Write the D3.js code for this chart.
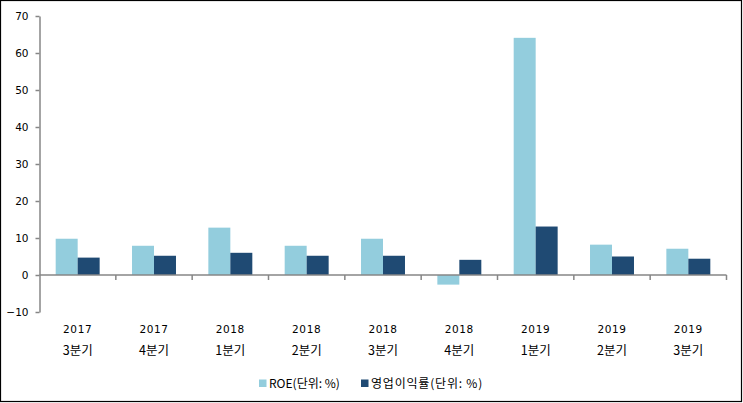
<!DOCTYPE html>
<html><head><meta charset="utf-8">
<script src="https://cdn.jsdelivr.net/npm/d3@7"></script>
<style>body{margin:0;background:#fff}svg{display:block}</style>
</head><body>
<script>
const years = ["2017","2017","2018","2018","2018","2018","2019","2019","2019"];
const quarters = ["3분기","4분기","1분기","2분기","3분기","4분기","1분기","2분기","3분기"];
const roe = [9.8, 7.9, 12.8, 7.9, 9.8, -2.6, 64.1, 8.2, 7.1];
const opMargin = [4.7, 5.2, 6.0, 5.2, 5.2, 4.1, 13.1, 5.0, 4.4];
const seriesNames = ["ROE(단위: %)", "영업이익률(단위: %)"];
const colors = ["#93CDDD", "#1F4A73"];
const yTicks = [-10,0,10,20,30,40,50,60,70];

(function(){
const W=743,H=403;
const svg=d3.select("body").append("svg").attr("width",W).attr("height",H);
svg.append("rect").attr("x",0.5).attr("y",0.5).attr("width",W-2).attr("height",H-2)
  .attr("fill","#fff").attr("stroke","#000").attr("stroke-width",1.2);

const pL=39.5,pR=726.5,pT=16,pB=312;
const idx=d3.range(years.length);
const x=d3.scaleBand().domain(idx).range([pL,pR]);
const y=d3.scaleLinear().domain([-10,70]).range([pB,pT]);
const bw=x.bandwidth()*0.288;
const axisColor="#868686";
const numFont="'DejaVu Sans', Verdana, sans-serif";
const krFont="'Noto Sans CJK KR', sans-serif";

// bars
const series=[roe,opMargin];
series.forEach((vals,si)=>{
  svg.append("g").selectAll("rect").data(idx).join("rect")
    .attr("x",i=>x(i)+x.bandwidth()/2-bw+si*bw)
    .attr("width",bw)
    .attr("y",i=>y(Math.max(0,vals[i])))
    .attr("height",i=>Math.abs(y(vals[i])-y(0)))
    .attr("fill",colors[si]);
});

// y axis
const ya=svg.append("g").attr("transform",`translate(${pL},0)`)
  .call(d3.axisLeft(y).tickValues(yTicks).tickSize(4).tickPadding(7).tickSizeOuter(0));
ya.select(".domain").attr("stroke",axisColor).attr("stroke-width",1.5);
ya.selectAll(".tick line").attr("stroke",axisColor).attr("stroke-width",1.5);
ya.selectAll("text").attr("font-family",numFont).attr("font-size",10.5).attr("fill","#000");

// x axis at zero
const xa=svg.append("g").attr("transform",`translate(0,${y(0)})`);
xa.append("line").attr("x1",pL).attr("x2",pR).attr("stroke",axisColor).attr("stroke-width",1.5);
const bounds=idx.map(i=>x(i)).concat([pR]);
xa.selectAll("line.t").data(bounds.slice(1)).join("line").attr("class","t")
  .attr("x1",d=>d).attr("x2",d=>d).attr("y1",0).attr("y2",5)
  .attr("stroke",axisColor).attr("stroke-width",1.5);

// category labels
const lab=svg.append("g");
lab.selectAll("text.yr").data(idx).join("text").attr("class","yr")
  .attr("x",i=>x(i)+x.bandwidth()/2).attr("y",333)
  .attr("text-anchor","middle").attr("font-family",numFont).attr("font-size",10.5)
  .attr("letter-spacing",0.6).text(i=>years[i]);
lab.selectAll("text.q").data(idx).join("text").attr("class","q")
  .attr("x",i=>x(i)+x.bandwidth()/2).attr("y",355)
  .attr("text-anchor","middle").attr("font-family",krFont).attr("font-size",12.5)
  .text(i=>quarters[i]);

// legend
const legX=[259,361];
const lg=svg.append("g");
seriesNames.forEach((n,i)=>{
  lg.append("rect").attr("x",legX[i]).attr("y",379.5).attr("width",7.5).attr("height",7.5).attr("fill",colors[i]);
  lg.append("text").attr("x",legX[i]+10).attr("y",387.5).attr("font-family",krFont)
    .attr("font-size",12).attr("letter-spacing",i===1?0.8:0).text(n);
});
})();
</script>
</body></html>
